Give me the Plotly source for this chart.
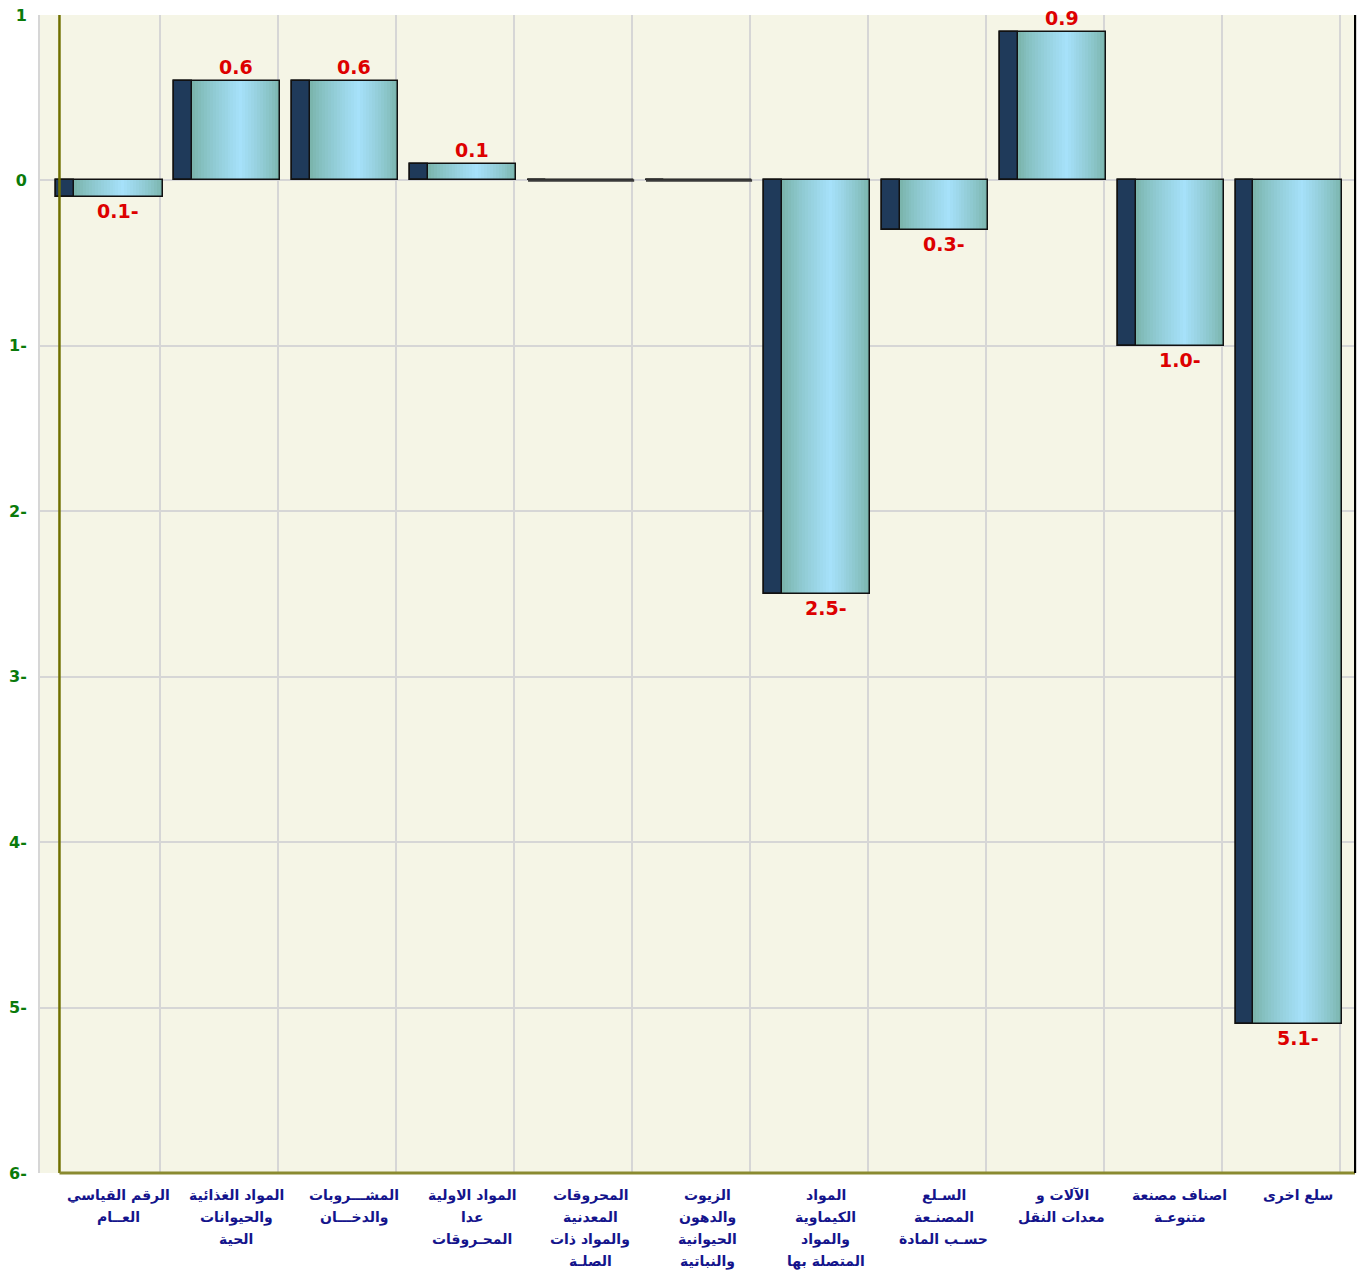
import plotly.graph_objects as go

# ---- data ----
categories = [
    ["الرقم القياسي", "العــام"],
    ["المواد الغذائية", "والحيوانات", "الحية"],
    ["المشـــروبات", "والدخـــان"],
    ["المواد الاولية", "عدا", "المحـروقات"],
    ["المحروقات", "المعدنية", "والمواد ذات", "الصلـة"],
    ["الزيوت", "والدهون", "الحيوانية", "والنباتية"],
    ["المواد", "الكيماوية", "والمواد", "المتصلة بها"],
    ["السـلع", "المصنـعة", "حسـب المادة"],
    ["الآلات و", "معدات النقل"],
    ["اصناف مصنعة", "متنوعـة"],
    ["سلع اخرى"],
]
values = [-0.1, 0.6, 0.6, 0.1, 0.0, 0.0, -2.5, -0.3, 0.9, -1.0, -5.1]
y_ticks = [1, 0, -1, -2, -3, -4, -5, -6]

# ---- styling ----
BG = "#f5f5e6"
DARK = "#1f3a5a"
EDGE_RGB = (120, 178, 168)
MID_RGB = (166, 225, 250)
BAR_W = 0.9
DARK_W = 0.152
N_SLICES = 30
PEAK = 0.55

x = list(range(len(values)))
x_range = [-0.589, len(values) - 1 + 0.563]
fig = go.Figure()

# dark left face
fig.add_trace(go.Bar(x=x, y=values, width=DARK_W, offset=-BAR_W / 2,
                     marker=dict(color=DARK, line=dict(width=0)), hoverinfo="skip"))

# gradient light face
light_w = BAR_W - DARK_W
sw = light_w / N_SLICES
for k in range(N_SLICES):
    t = (k + 0.5) / N_SLICES
    f = t / PEAK if t <= PEAK else (1 - t) / (1 - PEAK)
    f = f ** 0.8
    c = tuple(int(round(EDGE_RGB[j] + (MID_RGB[j] - EDGE_RGB[j]) * f)) for j in range(3))
    w = sw * (1.6 if k < N_SLICES - 1 else 1.0)
    fig.add_trace(go.Bar(x=x, y=values, width=w, offset=-BAR_W / 2 + DARK_W + k * sw,
                         marker=dict(color="rgb(%d,%d,%d)" % c, line=dict(width=0)),
                         hoverinfo="skip"))

# outlines
fig.add_trace(go.Bar(x=x, y=values, width=DARK_W, offset=-BAR_W / 2,
                     marker=dict(color="rgba(0,0,0,0)", line=dict(color="#111", width=1.5)),
                     hoverinfo="skip"))
fig.add_trace(go.Bar(x=x, y=values, width=BAR_W, offset=-BAR_W / 2,
                     marker=dict(color="rgba(0,0,0,0)", line=dict(color="#111", width=1.5)),
                     hoverinfo="skip"))

# zero-valued bars shown as flat lines
zx, zy = [], []
for i, v in enumerate(values):
    if v == 0:
        zx += [i - BAR_W / 2, i + BAR_W / 2, None]
        zy += [0, 0, None]
fig.add_trace(go.Scatter(x=zx, y=zy, mode="lines", line=dict(color="#3a3a3a", width=2.5),
                         hoverinfo="skip"))

# value labels
label_x_off = -BAR_W / 2 + DARK_W + light_w / 2
for i, v in enumerate(values):
    if v == 0:
        continue
    txt = "%.1f" % abs(v) + ("-" if v < 0 else "")
    fig.add_annotation(x=i + label_x_off, y=v, text=txt, showarrow=False,
                       yanchor="bottom" if v > 0 else "top",
                       yshift=1 if v > 0 else -1,
                       font=dict(family="DejaVu Sans", size=19, color="#dd0000", weight="bold"))

# category labels (one annotation per line)
for i, lines in enumerate(categories):
    for j, line in enumerate(lines):
        fig.add_annotation(x=i + label_x_off, y=0, yref="paper", text=line, showarrow=False,
                           yanchor="middle", yshift=-22 - 22 * j,
                           font=dict(family="DejaVu Sans", size=14, color="#14148c", weight="bold"))

# axis lines
fig.add_shape(type="line", x0=-0.424, x1=-0.424, y0=0, y1=1, xref="x", yref="paper",
              line=dict(color="#707000", width=2.5), layer="above")
fig.add_shape(type="line", x0=-0.424, x1=x_range[1], y0=0, y1=0, xref="x", yref="paper",
              line=dict(color="#8a8a30", width=3), layer="above")
fig.add_shape(type="line", x0=1, x1=1, y0=0, y1=1, xref="paper", yref="paper",
              line=dict(color="#000000", width=2), layer="above")

fig.update_layout(
    width=1359, height=1272, autosize=False,
    margin=dict(l=40, r=2, t=15, b=99),
    paper_bgcolor="white", plot_bgcolor=BG,
    barmode="overlay", showlegend=False, bargap=0,
    xaxis=dict(range=x_range, showticklabels=False,
               tickvals=[i + 0.432 for i in range(len(values))],
               showgrid=True, gridcolor="#d6d6d6", gridwidth=2, zeroline=False,
               showline=False, ticks=""),
    yaxis=dict(range=[y_ticks[-1], y_ticks[0]], tickvals=y_ticks,
               ticktext=[str(abs(t)) + ("-" if t < 0 else "") for t in y_ticks],
               showgrid=True, gridcolor="#d6d6d6", gridwidth=2, zeroline=False,
               showline=True, linecolor="#d6d6d6", linewidth=2, mirror=True,
               ticks="", ticklabelstandoff=8,
               tickfont=dict(family="DejaVu Sans", size=16, color="#0a7a0a", weight="bold")),
)

fig.write_html("out.html", config={"displayModeBar": False},
               post_script="document.body.style.margin='0px';")
